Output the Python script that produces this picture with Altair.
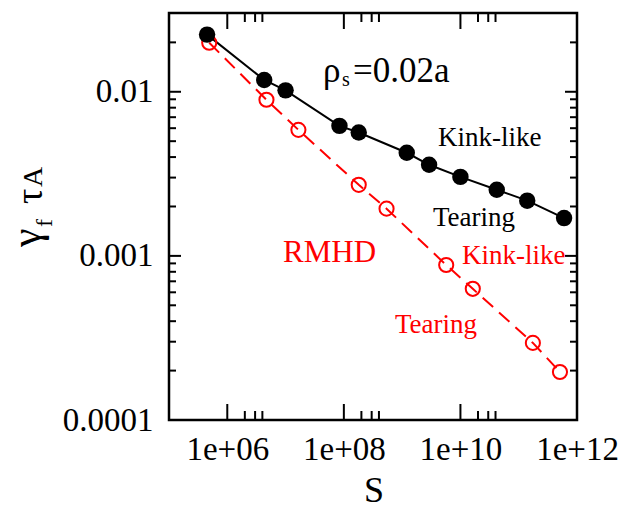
import altair as alt
import pandas as pd

# Growth rate vs Lundquist number (two-fluid, rho_s = 0.02a)
black_S = [4.5e5, 4.3e6, 1.0e7, 8.4e7, 1.8e8, 1.2e9, 2.9e9, 1.0e10, 4.2e10, 1.4e11, 6.0e11]
black_g = [0.0223, 0.0118, 0.0102, 0.0062, 0.00565, 0.00425, 0.00359, 0.00303, 0.00253, 0.00217, 0.0017]

# Reduced MHD
red_S = [4.9e5, 4.7e6, 1.66e7, 1.8e8, 5.4e8, 5.7e9, 1.63e10, 1.75e11, 5.1e11]
red_g = [0.0199, 0.00894, 0.00586, 0.00271, 0.00194, 0.00088, 0.00063, 0.000295, 0.000196]

x_major = [1e6, 1e8, 1e10, 1e12]
x_minor = [m * 10.0 ** e for e in (6, 8, 10) for m in (2, 3, 4)]
y_major = [1e-4, 1e-3, 1e-2]
y_minor = [m * 10.0 ** e for e in (-4, -3) for m in range(2, 10)] + [2e-2]

W, H = 408, 407
SERIF = "Liberation Serif"

xs = alt.Scale(type="log", domain=[1e5, 1e12], nice=False, zero=False)
ys = alt.Scale(type="log", domain=[1e-4, 0.0302], nice=False, zero=False)

black_df = pd.DataFrame({"S": black_S, "g": black_g})
red_df = pd.DataFrame({"S": red_S, "g": red_g})

x_enc = alt.X(
    "S:Q", scale=xs, title=None,
    axis=alt.Axis(
        values=x_major, ticks=False, domain=False, grid=False,
        labelOverlap=False, labelFlush=False, labelBound=False,
        labelFont=SERIF, labelFontSize=33, labelColor="black", labelPadding=13,
        labelExpr="'1e+' + (round(log(datum.value)/LN10) < 10 ? '0' : '') + round(log(datum.value)/LN10)",
    ),
)
y_enc = alt.Y(
    "g:Q", scale=ys, title=None,
    axis=alt.Axis(
        values=y_major, ticks=False, domain=False, grid=False, format=".4~f",
        labelOverlap=False, labelFlush=False,
        labelFont=SERIF, labelFontSize=33, labelColor="black", labelPadding=16,
    ),
)

black_line = alt.Chart(black_df).mark_line(color="black", strokeWidth=2).encode(x=x_enc, y=y_enc)
black_pts = alt.Chart(black_df).mark_point(
    shape="circle", filled=True, color="black", size=270, opacity=1
).encode(x=alt.X("S:Q", scale=xs), y=alt.Y("g:Q", scale=ys))

red_line = alt.Chart(red_df).mark_line(
    color="#ff0000", strokeWidth=2, strokeDash=[14, 8]
).encode(x=alt.X("S:Q", scale=xs), y=alt.Y("g:Q", scale=ys))
red_pts = alt.Chart(red_df).mark_point(
    shape="circle", filled=False, color="#ff0000", size=200, strokeWidth=2, opacity=1
).encode(x=alt.X("S:Q", scale=xs), y=alt.Y("g:Q", scale=ys))


def xticks(vals, length):
    df = pd.DataFrame({"v": vals})
    bottom = alt.Chart(df).mark_rule(color="black", strokeWidth=2).encode(
        x=alt.X("v:Q", scale=xs), y=alt.value(H), y2=alt.value(H - length))
    top = alt.Chart(df).mark_rule(color="black", strokeWidth=2).encode(
        x=alt.X("v:Q", scale=xs), y=alt.value(0), y2=alt.value(length))
    return [bottom, top]


def yticks(vals, length):
    df = pd.DataFrame({"v": vals})
    left = alt.Chart(df).mark_rule(color="black", strokeWidth=2).encode(
        y=alt.Y("v:Q", scale=ys), x=alt.value(0), x2=alt.value(length))
    right = alt.Chart(df).mark_rule(color="black", strokeWidth=2).encode(
        y=alt.Y("v:Q", scale=ys), x=alt.value(W), x2=alt.value(W - length))
    return [left, right]


def label(text, x, y, size, color="black", angle=0, align="left"):
    return alt.Chart(alt.Data(values=[{}])).mark_text(
        text=text, font=SERIF, fontSize=size, color=color,
        align=align, baseline="alphabetic", angle=angle,
    ).encode(x=alt.value(x), y=alt.value(y))


texts = [
    label("\u03c1", 154, 69, 35),
    label("s", 173, 73, 20),
    label("=0.02a", 184, 69, 35),
    label("Kink-like", 269, 133, 27),
    label("Tearing", 264, 213, 27),
    label("RMHD", 114, 249, 31, "#ff0000"),
    label("Kink-like", 293, 251, 27, "#ff0000"),
    label("Tearing", 226, 320, 27, "#ff0000"),
    # axis titles
    label("S", 205, 489, 36, align="center"),
    label("\u03b3", -129, 234, 42, angle=270),
    label("f", -117, 214, 24, angle=270),
    label("\u03c4", -127, 191, 38, angle=270),
    label("A", -127, 174, 28, angle=270),
]

layers = (
    xticks(x_major, 16) + xticks(x_minor, 9) + yticks(y_major, 12) + yticks(y_minor, 7)
    + [black_line, red_line, red_pts, black_pts] + texts
)

chart = alt.layer(*layers).properties(
    width=W, height=H,
    autosize=alt.AutoSizeParams(type="none"),
    padding={"left": 169, "top": 13, "right": 48, "bottom": 97},
).configure_view(stroke="black", strokeWidth=2.5)

chart.save("out.html", embed_options={"renderer": "svg", "actions": False})
